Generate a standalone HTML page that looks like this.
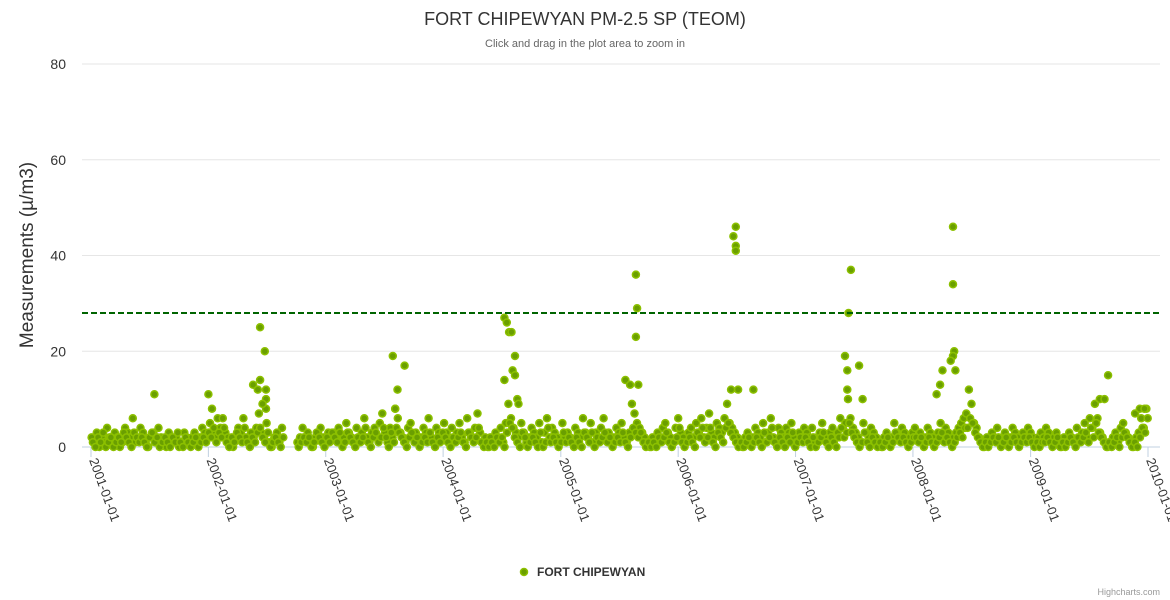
<!DOCTYPE html>
<html><head><meta charset="utf-8"><style>
body{margin:0;background:#fff;font-family:"Liberation Sans",sans-serif}
svg{display:block}
</style></head><body>
<svg id="chart" width="1170" height="600" xmlns="http://www.w3.org/2000/svg">
<text x="585" y="25" text-anchor="middle" font-size="18" fill="#333">FORT CHIPEWYAN PM-2.5 SP (TEOM)</text>
<text x="585" y="47" text-anchor="middle" font-size="11" fill="#666">Click and drag in the plot area to zoom in</text>
<g id="grid"></g>
<g id="yticks"></g>
<text transform="translate(33,255) rotate(-90)" text-anchor="middle" font-size="19" fill="#333">Measurements (µ/m3)</text>
<g id="xaxis"></g>
<g id="points"></g>
<line id="limit" stroke="#006400" stroke-width="2" stroke-dasharray="6,3"></line>
<g>
<circle cx="524" cy="572" r="3.5" fill="#6a9f00" stroke="#8cc000" stroke-width="1.5"></circle>
<text x="537" y="576" font-size="12" font-weight="bold" fill="#333">FORT CHIPEWYAN</text>
</g>
<text x="1160" y="595" text-anchor="end" font-size="9" fill="#999">Highcharts.com</text>
</svg>
<script>
const yTicks=[0,20,40,60,80];
const xTickLabels=["2001-01-01","2002-01-01","2003-01-01","2004-01-01","2005-01-01","2006-01-01","2007-01-01","2008-01-01","2009-01-01","2010-01-01"];
const thresholdValue=28;
const baseStart="2001-01-03";
const baseA=[
2,1,3,0,2,1,4,2,1,3,2,0,1,4,3,2,6,1,2,4,3,1,0,2,3,1,4,2,1,0,3,2,1,2,0,1,3,2,1,2,3,1,2,4,3,2,
5,3,2,6,4,6,3,2,1,0,2,4,3,6,2,1,3,2,4,7,3,2,5,1,0,2,3,1,4,null,null,null,null,null,1,2,4,2,3,1,0,2,3,4,2,1,3,2,
3,2,4,1,2,5,3,2,1,4,2,3,6,2,1,3,4,2,5,7,3,1,4,2,8,6,3,2,1,4,5,2,3,1,2,4,3,6,2,1,4,3,2,5,3,1,
4,2,3,5,2,1,6,3,2,4,7,3,1,2,0,2,1,3,2,4,1,5,9,6,4,3,2,5,3,1,2,4,3,2,5,1,3,6,2,4,3,2,1,5,2,3,
2,1,4,3,2,6,3,2,5,1,3,2,4,6,2,3,1,2,4,3,5,2,1,3,9,7,5,4,3,2,1,0,2,1,3,2,4,5,3,2,1,4,6,3,2,1,
3,4,2,5,3,6,2,4,7,3,2,5,4,3,6,9,5,4,3,2,1,0,2,3,1,2,4,3,2,5,1,3,6,2,1,4,3,2,4,3,5,2,1,3,2,4,
3,2,4,1,2,3,5,2,1,3,4,2,3,6,4,5,10,6,4,3,2,1,5,3,2,4,3,2,1,0,2,3,1,2,5,3,2,4,3,1,2,3,4,2,3,1,
2,4,3,2,1,3,5,2,4,3,1,2,3,4,5,6,7,12,9,5,4,2,1,0,2,1,3,2,4,1,2,3,1,2,4,3,2,1,3,2,4,3,2,1,2,3,
2,4,3,1,2,3,1,0,2,1,3,2,1,4,2,3,5,2,6,4,9,6,3,2,1,0,1,2,3,1,4,5,3,2,1,0,2,3,6,4,8,7,6,5,4,3];
const baseB=[
1,0,2,1,3,0,1,2,0,1,2,1,3,2,1,0,3,2,1,2,1,0,2,3,1,2,0,1,2,1,0,2,1,3,1,0,2,1,0,1,2,0,1,2,1,3,
2,4,1,3,2,4,1,0,2,1,3,2,1,4,1,0,2,1,3,4,2,1,3,0,1,2,1,0,2,null,null,null,null,null,0,1,2,1,2,0,1,3,2,1,0,2,1,3,
2,1,3,0,1,3,2,1,0,2,1,2,4,1,0,2,3,1,2,4,2,0,3,1,4,3,2,1,0,2,3,1,2,0,1,2,1,3,1,0,2,1,3,2,1,0,
2,1,2,3,1,0,3,2,1,2,4,1,0,1,0,1,0,2,1,2,0,3,5,4,2,1,0,3,2,0,1,2,1,0,3,0,1,4,1,2,1,0,1,3,1,2,
1,0,2,1,0,3,2,1,3,0,2,1,2,3,1,2,0,1,2,1,3,1,0,2,4,3,2,3,1,0,1,0,1,0,2,1,2,3,1,0,1,2,4,1,0,1,
2,1,0,3,2,4,1,2,4,1,0,3,2,1,4,5,3,2,1,0,1,0,1,2,0,1,2,1,0,3,1,2,4,1,0,2,1,0,2,1,3,0,1,2,1,2,
1,0,2,0,1,2,3,1,0,2,1,0,2,4,2,3,5,3,2,1,0,1,3,1,0,2,1,0,1,0,1,2,0,1,3,2,1,2,1,0,1,2,2,1,2,0,
1,2,1,0,1,2,3,1,2,1,0,1,2,3,2,4,4,6,5,3,2,1,0,1,0,1,2,1,2,0,1,2,0,1,2,1,0,1,2,1,2,1,0,1,0,1,
1,2,1,0,1,2,0,1,0,1,2,1,0,2,1,2,3,1,4,2,5,3,2,1,0,1,0,1,2,0,2,3,2,1,0,1,0,2,4,3,6,5,4,3,2,3];
const peakDates=[2001.54,2002.00,2002.03,2002.38,2002.42,2002.44,2002.44,2002.48,2002.49,2002.49,2002.49,2002.46,
2003.57,2003.61,2003.67,2003.59,
2004.52,2004.54,2004.56,2004.58,2004.61,2004.59,2004.61,2004.52,2004.63,2004.64,
2005.64,2005.65,2005.64,2005.55,2005.59,2005.66,
2006.47,2006.49,2006.49,2006.49,2006.45,2006.51,2006.64,
2007.42,2007.44,2007.47,2007.45,2007.54,2007.44,2007.57,
2008.34,2008.34,2008.35,2008.34,2008.32,2008.36,2008.23,2008.20,2008.25,
2009.66,2009.59,2009.63,2009.89,2009.93,2009.97];
const peakValues=[11,11,8,13,12,25,14,20,12,10,8,9,
19,12,17,8,
27,26,24,24,19,16,15,14,10,9,
36,29,23,14,13,13,
44,46,42,41,12,12,12,
19,16,37,28,17,12,10,
46,34,20,19,18,16,13,11,16,
15,10,10,7,8,8];

const NS="http://www.w3.org/2000/svg";
const X0=Date.UTC(2001,0,1),X1=Date.UTC(2010,0,1);
const PL=82,PR=1160,PX0=91,PX1=1148,Y0=447,Y80=64;
function xs(t){return PX0+(t-X0)/(X1-X0)*(PX1-PX0);}
function ys(v){return Y0-(v/80)*(Y0-Y80);}
function yearT(y){return X0+(y-2001)/9*(X1-X0);}
const grid=document.getElementById('grid'),yt=document.getElementById('yticks');
yTicks.forEach(v=>{
  const l=document.createElementNS(NS,'line');
  
  
  l.setAttribute('x1',PL);l.setAttribute('x2',PR);l.setAttribute('y1',ys(v));l.setAttribute('y2',ys(v));
  l.setAttribute('stroke',v===0?'#c0d0e0':'#e6e6e6');l.setAttribute('stroke-width',1);
  grid.appendChild(l);
  const t=document.createElementNS(NS,'text');
  
  
  t.setAttribute('x',66);t.setAttribute('y',ys(v)+5);t.setAttribute('text-anchor','end');
  t.setAttribute('font-size','14');t.setAttribute('fill','#333');t.textContent=v;
  yt.appendChild(t);
});
const xa=document.getElementById('xaxis');
xTickLabels.forEach(s=>{
  const p=s.split('-');const x=xs(Date.UTC(+p[0],+p[1]-1,+p[2]));
  const l=document.createElementNS(NS,'line');
  
  
  l.setAttribute('x1',x);l.setAttribute('x2',x);l.setAttribute('y1',Y0);l.setAttribute('y2',Y0+10);
  l.setAttribute('stroke','#c0d0e0');xa.appendChild(l);
  const t=document.createElementNS(NS,'text');
  
  
  t.setAttribute('transform','translate('+(x-2)+','+(Y0+13)+') rotate(70)');
  t.setAttribute('font-size','13');t.setAttribute('fill','#333');t.textContent=s;
  xa.appendChild(t);
});
const lim=document.getElementById('limit');
lim.setAttribute('x1',PL);lim.setAttribute('x2',PR);lim.setAttribute('y1',ys(thresholdValue));lim.setAttribute('y2',ys(thresholdValue));
const pg=document.getElementById('points');
function dot(t,v){
  const c=document.createElementNS(NS,'circle');
  
  
  c.setAttribute('cx',xs(t).toFixed(1));c.setAttribute('cy',ys(v).toFixed(1));c.setAttribute('r',3.5);
  c.setAttribute('fill','#6a9f00');c.setAttribute('stroke','#8cc000');c.setAttribute('stroke-width',1.5);
  pg.appendChild(c);
}
const bp=baseStart.split('-'),B0=Date.UTC(+bp[0],+bp[1]-1,+bp[2]),DAY=86400000;
baseA.forEach((v,i)=>{if(v!==null){const t=B0+i*8*DAY;if(t<=X1)dot(t,v);}});
baseB.forEach((v,i)=>{if(v!==null){const t=B0+(i*8+4)*DAY;if(t<=X1)dot(t,v);}});
peakDates.forEach((d,i)=>dot(yearT(d),peakValues[i]));
</script>
</body></html>
